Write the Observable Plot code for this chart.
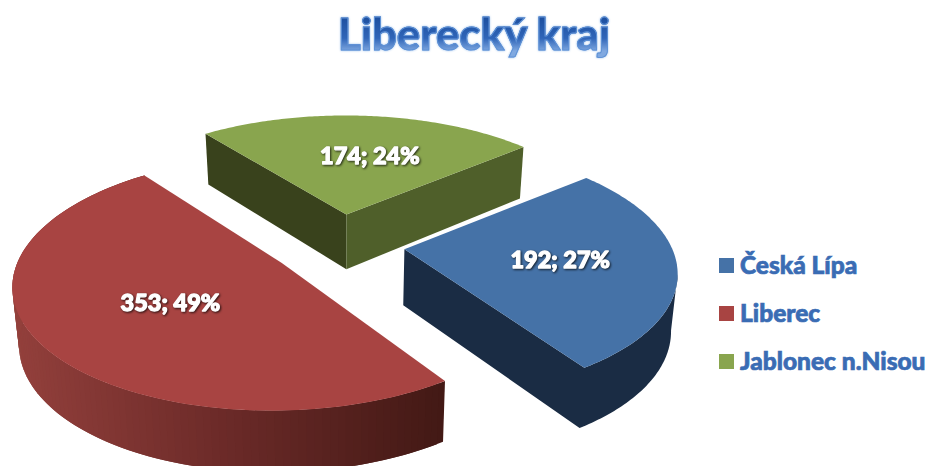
<!DOCTYPE html>
<html><head><meta charset="utf-8">
<script src="https://cdn.jsdelivr.net/npm/d3@7"></script>
<script src="https://cdn.jsdelivr.net/npm/@observablehq/plot@0.6"></script>
<style>
html,body{margin:0;padding:0;background:#fff;overflow:hidden;width:930px;height:466px;font-family:Lato,"Open Sans",sans-serif}
#wrap{position:relative;width:930px;height:466px}
#title{position:absolute;left:0;top:7px;width:948px;text-align:center;font-size:43.5px;line-height:52px;font-weight:900;
 background:linear-gradient(#1d4f9f 20%,#2f65b8 60%,#7fa8e0 85%);-webkit-background-clip:text;background-clip:text;color:transparent;
 -webkit-text-stroke:1px #5f92d6;filter:drop-shadow(0 0 1px #9fc3ee)}
#chart{position:absolute;left:0;top:66px}
#chart svg{display:block}
#legend{position:absolute;left:719px;top:0}
.item{position:absolute;left:0;white-space:nowrap}
.sw{position:absolute;left:0;top:0;width:15px;height:15px}
.tx{position:absolute;left:21px;top:-9px;font-size:24.5px;line-height:32px;font-weight:900;color:#3a6cb4;-webkit-text-stroke:.7px #3a6cb4}
.lbl text{filter:drop-shadow(1px 1px 1px rgba(0,0,0,.75))}
</style></head>
<body><div id="wrap">
<div id="title">Liberecký kraj</div>
<div id="chart"></div>
<div id="legend"></div>
</div>
<script>
const title = "Liberecký kraj";
const categories = ["Česká Lípa", "Liberec", "Jablonec n.Nisou"];
const values = [192, 353, 174];
const topColors = ["#4572A7", "#A84442", "#89A54E"];

// view of the tilted disc
const view = {x0: 338, y0: 244, f: 265, g: 123.6, p: 0.16, start: 50.5};
const explodes = [0.25, 0.255, 0.255];
const radiiX = [1.005, 0.975, 1.01];
const radiiY = [0.985, 0.96, 1];
const turns = [0, -1, -1];
const labelRadii = [0.55, 0.5, 0.57];
const rad = d => d * Math.PI / 180;
function proj(u, v) {
  const w = 1 + view.p * v;
  return {x: view.x0 + view.f * u / w, y: view.y0 - view.g * v / w, v};
}
function lower(q) { // same point on the lower rim of the disc
  return {x: q.x - (q.x - 346) * 0.02, y: q.y + 56 - 5 * q.v, v: q.v};
}
const total = d3.sum(values);
let acc = view.start;
const slices = values.map((val, i) => {
  const a0 = acc, a1 = acc + val / total * 360;
  acc = a1;
  const mid = rad((a0 + a1) / 2);
  const cu = explodes[i] * Math.sin(mid), cv = explodes[i] * Math.cos(mid);
  const at = deg => proj(cu + radiiX[i] * Math.sin(rad(deg + turns[i])), cv + radiiY[i] * Math.cos(rad(deg + turns[i])));
  const arc = d3.range(0, 121).map(k => at(a0 + (a1 - a0) * k / 120));
  const c = proj(cu, cv);
  const lr = labelRadii[i];
  const lab = proj(cu + lr * Math.sin(mid), cv + lr * Math.cos(mid));
  return {i, val, a0, a1, arc, c, lab, name: categories[i],
          text: `${val}; ${Math.round(val / total * 100)}%`};
});

const quad = (a, b) => [a, b, lower(b), lower(a)];
const poly = (pts, color) => Plot.line(pts, {x: "x", y: "y", fill: color, stroke: "none"});
const [blue, red, green] = slices;
const redShade = d3.scaleLinear().domain([445, 230, 12]).range(["#431915", "#6b2a28", "#93403c"]).clamp(true);
// blue side: one outline running from the rightmost rim point round the near rim and the cut face
const k0 = d3.maxIndex(blue.arc, d => d.x);
const blueNear = blue.arc.slice(k0);
const blueSide = [...blueNear, blue.c, lower(blue.c), ...blueNear.map(lower).reverse()];

const marks = [
  // green: two cut faces
  poly(quad(green.c, green.arc[0]), "#39421C"),
  poly(quad(green.c, green.arc[120]), "#4F5F2A"),
  poly([...green.arc, green.c], topColors[2]),
  // blue: cut face and rim
  poly(blueSide, "#1A2C44"),
  poly([...blue.arc, blue.c], topColors[0]),
  // red: shaded rim, each strip overlapping the next
  ...d3.range(120).map(k => poly(quad(red.arc[k], red.arc[Math.min(k + 2, 120)]), redShade(red.arc[k].x))),
  poly([...red.arc, red.c], topColors[1]),
  Plot.text(slices, {x: d => d.lab.x, y: d => d.lab.y, text: "text", dx: 8, dy: 1, fill: "white", stroke: "white", strokeWidth: 1.3,
    fontSize: 23.5, fontWeight: 900, fontFamily: "Lato", className: "lbl"})
];

const chart = Plot.plot({
  width: 930, height: 400, margin: 0,
  x: {domain: [0, 930], range: [0, 930], axis: null},
  y: {domain: [66, 466], range: [0, 400], axis: null},
  marks
});
document.getElementById("chart").append(chart);

const legendTops = [258, 306, 354];
const legend = document.getElementById("legend");
categories.forEach((name, i) => {
  const it = document.createElement("div");
  it.className = "item"; it.style.top = legendTops[i] + "px";
  it.innerHTML = `<div class="sw" style="background:${topColors[i]}"></div><div class="tx">${name}</div>`;
  legend.append(it);
});
</script></body></html>
